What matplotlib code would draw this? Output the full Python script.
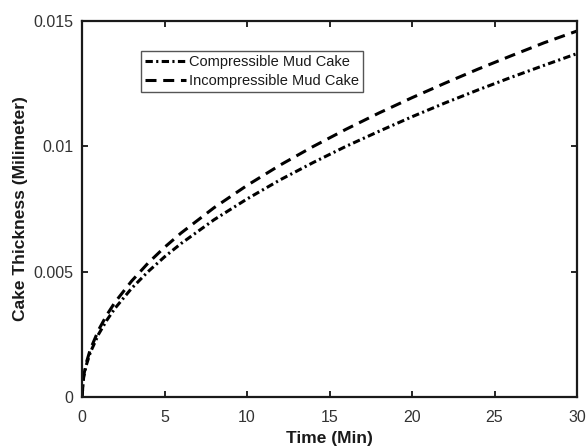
import matplotlib
matplotlib.use("Agg")
import matplotlib.pyplot as plt

plt.rcParams['font.family'] = ['Liberation Sans', 'DejaVu Sans']

time_min = [0, 0.1, 0.25, 0.5, 1, 1.5, 2, 3, 4, 5, 6, 8, 10, 12, 14, 16, 18, 20, 22, 24, 26, 28, 30]
compressible = [0, 0.00079, 0.00125, 0.00177, 0.0025, 0.00306, 0.00354, 0.00433, 0.0050, 0.00559,
                0.00612, 0.00707, 0.0079, 0.00866, 0.00935, 0.0100, 0.0106, 0.01118, 0.01173,
                0.01225, 0.01275, 0.01323, 0.0137]
incompressible = [0, 0.00084, 0.00134, 0.00189, 0.00267, 0.00327, 0.00378, 0.00462, 0.00534, 0.00597,
                  0.00654, 0.00755, 0.00844, 0.00925, 0.00999, 0.01068, 0.01133, 0.01194, 0.01252,
                  0.01308, 0.01361, 0.01413, 0.0146]

x_ticks = [0, 5, 10, 15, 20, 25, 30]
y_ticks = [0, 0.005, 0.01, 0.015]
y_tick_labels = ['0', '0.005', '0.01', '0.015']

fig = plt.figure(figsize=(5.87, 4.48), dpi=100)
ax = fig.add_axes([82/587, 1-397/448, 495/587, 376/448])

ax.plot(time_min, compressible, color='black', lw=2.2,
        linestyle=(0, (2.4, 1.1, 0.7, 1.1)), label='Compressible Mud Cake')
ax.plot(time_min, incompressible, color='black', lw=2.2,
        linestyle=(0, (3.6, 2.2)), label='Incompressible Mud Cake')

ax.set_xlim(0, 30)
ax.set_ylim(0, 0.015)
ax.set_xticks(x_ticks)
ax.set_xticklabels([str(t) for t in x_ticks])
ax.set_yticks(y_ticks)
ax.set_yticklabels(y_tick_labels)
ax.tick_params(direction='in', top=True, right=True, length=4, width=1.2,
               labelsize=11.5, labelcolor='#333333')
ax.tick_params(axis='x', pad=9)
ax.tick_params(axis='y', pad=6)
for s in ax.spines.values():
    s.set_linewidth(1.6)
    s.set_color('#1a1a1a')

ax.set_xlabel('Time (Min)', fontsize=12.5, fontweight='bold', color='#1a1a1a', labelpad=5)
ax.set_ylabel('Cake Thickness (Milimeter)', fontsize=12.5, fontweight='bold', color='#1a1a1a', labelpad=4)

leg = ax.legend(loc='upper left', bbox_to_anchor=(0.119, 0.920), fontsize=10.5,
                handlelength=2.8, handletextpad=0.2, borderpad=0.3, labelspacing=0.3,
                fancybox=False, framealpha=1, borderaxespad=0)
leg.get_frame().set_edgecolor('#555555')
leg.get_frame().set_linewidth(1.0)
for t in leg.get_texts():
    t.set_color('#1a1a1a')

fig.savefig('out.png', dpi=100)
